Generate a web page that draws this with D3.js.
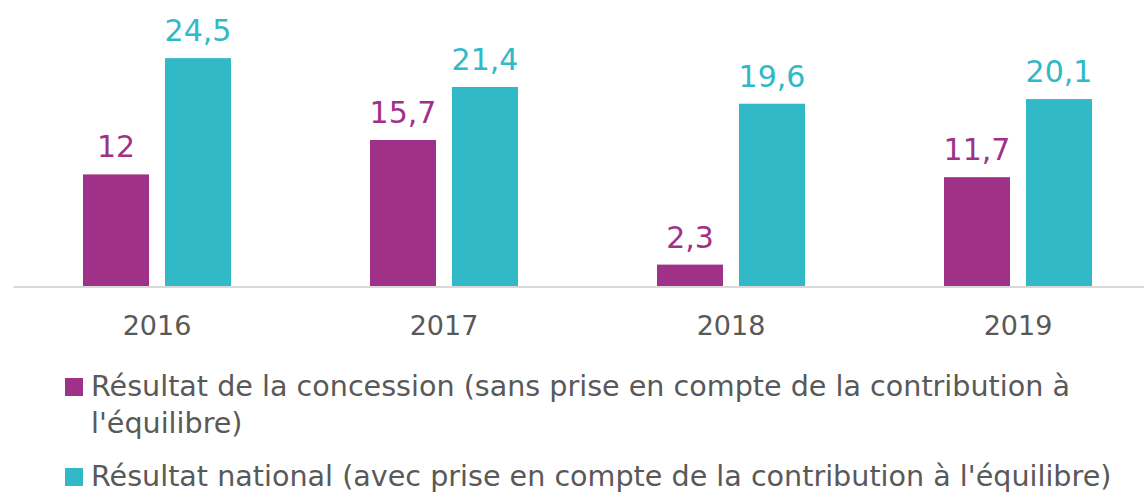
<!DOCTYPE html>
<html>
<head>
<meta charset="utf-8">
<script src="https://cdn.jsdelivr.net/npm/d3@7"></script>
<style>
    body { margin: 0; background: #fff; }
    svg { display: block; font-family: "DejaVu Sans", sans-serif; }
</style>
</head>
<body>
<script>
let years = ["2016", "2017", "2018", "2019"];
let seriesNames = [
    "Résultat de la concession (sans prise en compte de la contribution à l'équilibre)",
    "Résultat national (avec prise en compte de la contribution à l'équilibre)"
];
let concession = [12, 15.7, 2.3, 11.7];
let national = [24.5, 21.4, 19.6, 20.1];
let legendLines = [
    ["Résultat de la concession (sans prise en compte de la contribution à", "l'équilibre)"],
    ["Résultat national (avec prise en compte de la contribution à l'équilibre)"]
];

let colors = ["#a03188", "#31b9c7"];
let textColor = "#595959";

let svgWidth = 1144,
    svgHeight = 493,
    baseY = 286;

let svgContainer;

function init() {
    svgContainer = d3.select("body").append("svg")
        .attr("width", svgWidth)
        .attr("height", svgHeight);

    let series = [concession, national];

    let x0 = d3.scaleBand().domain(years).range([13.5, 1161.5]).padding(0);
    let x1 = d3.scaleBand().domain([0, 1]).range([69.5, 217.5]).paddingInner(16 / 82).paddingOuter(0);
    let y = d3.scaleLinear().domain([0, 30]).range([baseY, 7]);

    // baseline
    svgContainer.append("line")
        .attr("x1", x0.range()[0])
        .attr("x2", x0.range()[1])
        .attr("y1", baseY + 1)
        .attr("y2", baseY + 1)
        .attr("stroke", "#d9d9d9")
        .attr("stroke-width", 2);

    // x axis labels
    let xAxis = d3.axisBottom(x0).tickSize(0).tickPadding(0);
    let axisG = svgContainer.append("g")
        .attr("transform", "translate(0," + baseY + ")")
        .call(xAxis);
    axisG.select(".domain").remove();
    axisG.selectAll("text")
        .attr("dy", null)
        .attr("y", 49)
        .style("font-family", "DejaVu Sans")
        .style("font-size", "27px")
        .attr("fill", textColor);

    series.forEach((vals, s) => {
        let g = svgContainer.append("g");
        g.selectAll("rect")
            .data(vals)
            .enter().append("rect")
            .attr("x", (d, i) => x0(years[i]) + x1(s))
            .attr("y", d => y(d))
            .attr("width", x1.bandwidth())
            .attr("height", d => baseY - y(d))
            .attr("fill", colors[s]);
        g.selectAll("text")
            .data(vals)
            .enter().append("text")
            .attr("x", (d, i) => x0(years[i]) + x1(s) + x1.bandwidth() / 2)
            .attr("y", d => y(d) - 17)
            .attr("text-anchor", "middle")
            .style("font-size", "30px")
            .attr("fill", colors[s])
            .text(d => String(d).replace(".", ","));
    });

    // legend
    let legendTop = [378, 468];
    legendLines.forEach((lines, s) => {
        svgContainer.append("rect")
            .attr("x", 65)
            .attr("y", legendTop[s])
            .attr("width", 18)
            .attr("height", 18)
            .attr("fill", colors[s]);
        lines.forEach((t, j) => {
            svgContainer.append("text")
                .attr("x", 91)
                .attr("y", legendTop[s] + 18 + j * 37)
                .style("font-size", "28.6px")
                .attr("fill", textColor)
                .text(t);
        });
    });
}

init();
</script>
</body>
</html>
